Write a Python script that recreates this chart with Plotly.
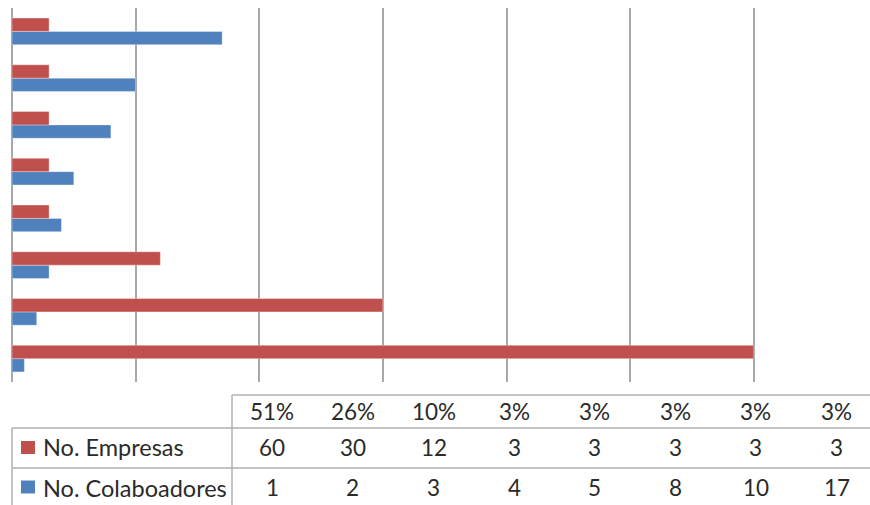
import plotly.graph_objects as go

# ---- data ----
pct_labels = ["51%", "26%", "10%", "3%", "3%", "3%", "3%", "3%"]
empresas = [60, 30, 12, 3, 3, 3, 3, 3]
colaboradores = [1, 2, 3, 4, 5, 8, 10, 17]
name_emp = "No. Empresas"
name_col = "No. Colaboadores"
color_emp = "#C0504D"
color_col = "#4F81BD"

# ---- layout geometry (pixels) ----
W, H = 870, 505
L, R, T, B = 12, 0, 8, 123
plot_w = W - L - R
plot_h = H - T - B
x_max = 69.4

def px(x):
    return (x - L) / plot_w

def py(y):
    return (H - B - y) / plot_h

pos = list(range(len(empresas)))

fig = go.Figure()
fig.add_trace(go.Bar(
    y=pos, x=colaboradores, orientation="h", name=name_col,
    marker=dict(color=color_col, line=dict(color="rgba(255,255,255,0.35)", width=1)),
))
fig.add_trace(go.Bar(
    y=pos, x=empresas, orientation="h", name=name_emp,
    marker=dict(color=color_emp, line=dict(color="rgba(255,255,255,0.35)", width=1)),
))

grid_c = "#a8a8a8"
font_fam = "Lato, Liberation Sans, sans-serif"
text_c = "#2a2a2a"
fig.update_layout(
    width=W, height=H,
    margin=dict(l=L, r=R, t=T, b=B),
    paper_bgcolor="white", plot_bgcolor="white",
    barmode="group", bargap=0.43, bargroupgap=0,
    showlegend=False,
    font=dict(family=font_fam, color=text_c),
    xaxis=dict(range=[0, x_max], dtick=10, showgrid=True, gridcolor=grid_c,
               gridwidth=1.5, zeroline=True, zerolinecolor=grid_c, zerolinewidth=1.5,
               showticklabels=False, ticks="", showline=False, fixedrange=True),
    yaxis=dict(range=[-0.5, len(empresas) - 0.5], showgrid=False, zeroline=False,
               showticklabels=False, ticks="", showline=False, fixedrange=True),
)

# ---- data table below the chart ----
line_c = "#b0b0b0"
first_col_right = 232
col_w = 80.6
y_head_top, y_row1, y_row2, y_bottom = 395, 428, 468, 520
shapes = []
def hline(y, x0, x1):
    shapes.append(dict(type="line", xref="paper", yref="paper",
                       x0=px(x0), x1=px(x1), y0=py(y), y1=py(y),
                       line=dict(color=line_c, width=1.5)))
def vline(x, y0, y1):
    shapes.append(dict(type="line", xref="paper", yref="paper",
                       x0=px(x), x1=px(x), y0=py(y0), y1=py(y1),
                       line=dict(color=line_c, width=1.5)))
hline(y_head_top, first_col_right, W + 10)
hline(y_row1, L, W + 10)
hline(y_row2, L, W + 10)
vline(L, y_row1, y_bottom)
vline(first_col_right, y_head_top, y_bottom)

# legend keys
for (c, yc) in [(color_emp, 447.5), (color_col, 487)]:
    shapes.append(dict(type="rect", xref="paper", yref="paper",
                       x0=px(21), x1=px(35), y0=py(yc - 6.5), y1=py(yc + 6.5),
                       fillcolor=c, line=dict(width=0)))
fig.update_layout(shapes=shapes)

ann = []
row_y = {"head": 411, "emp": 447.5, "col": 487.5}
ann.append(dict(text=name_emp, x=px(41), y=py(row_y["emp"]), xanchor="left",
                font=dict(size=23.5)))
ann.append(dict(text=name_col, x=px(41), y=py(row_y["col"]), xanchor="left",
                font=dict(size=23.5)))
for i in range(len(empresas)):
    xc = px(first_col_right + (i + 0.5) * col_w)
    ann.append(dict(text=pct_labels[i], x=xc, y=py(row_y["head"]), xanchor="center",
                    font=dict(size=22.5)))
    ann.append(dict(text=str(empresas[i]), x=xc, y=py(row_y["emp"]), xanchor="center",
                    font=dict(size=22.5)))
    ann.append(dict(text=str(colaboradores[i]), x=xc, y=py(row_y["col"]), xanchor="center",
                    font=dict(size=22.5)))
for a in ann:
    a.update(xref="paper", yref="paper", yanchor="middle", showarrow=False)
    a["font"].update(color=text_c, family=font_fam)
fig.update_layout(annotations=ann)

fig.write_html("out.html")
